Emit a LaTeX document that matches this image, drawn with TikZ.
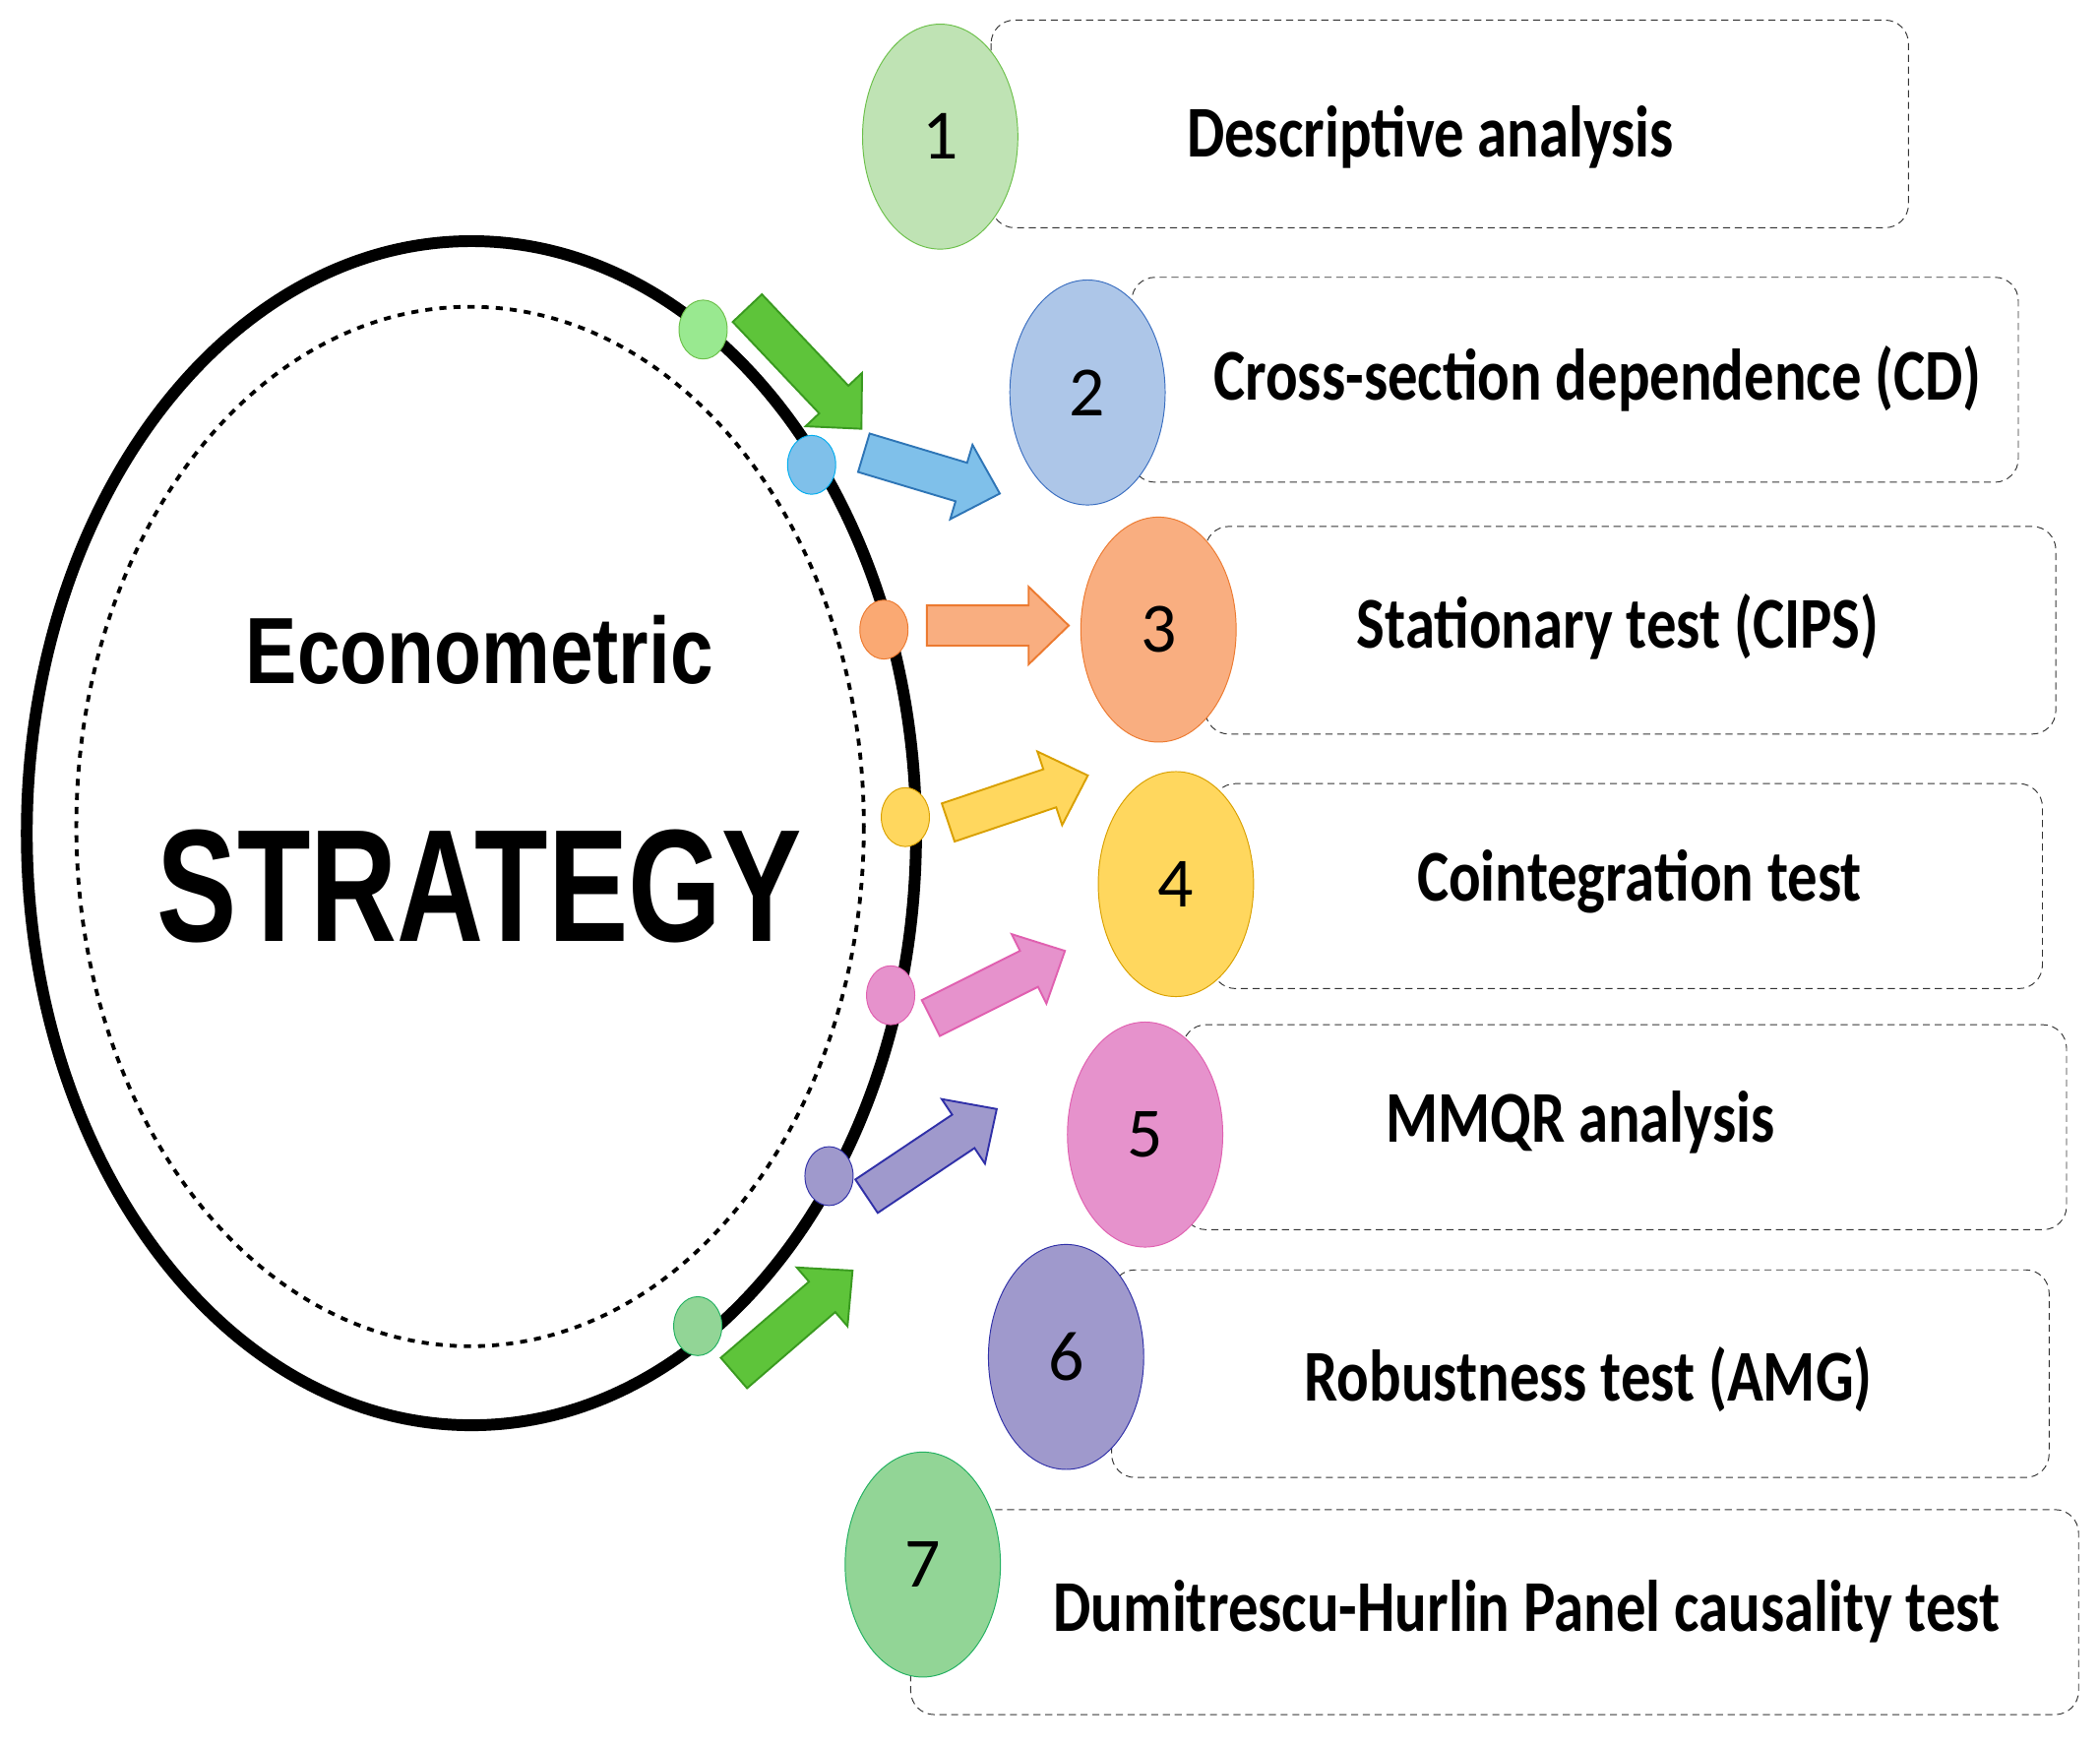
\documentclass[tikz,border=0pt]{standalone}
\usepackage{fontspec}
\setmainfont{Carlito}
\newfontfamily\hv{Liberation Sans}
\usetikzlibrary{shapes.geometric}
\definecolor{gA}{HTML}{BFE3B4}\definecolor{gAe}{HTML}{6CC04A}
\definecolor{bA}{HTML}{ADC6E8}\definecolor{bAe}{HTML}{3A6EC0}
\definecolor{oA}{HTML}{F9AE80}\definecolor{oAe}{HTML}{EC7A30}
\definecolor{yA}{HTML}{FFD75E}\definecolor{yAe}{HTML}{D9A000}
\definecolor{pA}{HTML}{E692CC}\definecolor{pAe}{HTML}{E060B0}
\definecolor{vA}{HTML}{9F99CC}\definecolor{vAe}{HTML}{3030A8}
\definecolor{sA}{HTML}{92D596}\definecolor{sAe}{HTML}{22B060}
\definecolor{garr}{HTML}{5EC43A}\definecolor{garre}{HTML}{3A9A20}
\definecolor{barr}{HTML}{7FC0EA}\definecolor{barre}{HTML}{2E75B6}
\newcommand{\blockarr}[5]{% start, page angle, length, fill, draw
 \begin{scope}[shift={#1},rotate=-#2]
 \draw[fill=#4,draw=#5,line width=0.8pt,line join=miter] (0,-15)--(#3-30,-15)--(#3-30,-29)--(#3,0)--(#3-30,29)--(#3-30,15)--(0,15)--cycle;
 \end{scope}}
\begin{document}
\begin{tikzpicture}[x=0.02cm,y=-0.02cm,
 box/.style={draw=black!80,densely dashed,rounded corners=0.35cm,thin},
 num/.style={ellipse,minimum width=2.32cm,minimum height=3.36cm,inner sep=0,font=\fontsize{30}{30}\selectfont},
 dot/.style={ellipse,minimum width=0.72cm,minimum height=0.88cm,inner sep=0},
 lab/.style={font=\bfseries\fontsize{31}{31}\selectfont,xscale=0.82}]
\useasboundingbox (0,0) rectangle (1568,1303);
\draw[line width=5pt] (352,622) ellipse [x radius=332,y radius=442];
\draw[dashed,line width=1.6pt] (351,617) ellipse [x radius=294,y radius=388];
\node[font=\hv\bfseries\fontsize{40}{40}\selectfont,xscale=0.82] (t1) at (358,485) {Econometric};
\node[font=\hv\bfseries\fontsize{68}{68}\selectfont,xscale=0.75] (t2) at (358,662) {STRATEGY};
% boxes
\draw[box] (740,15) rectangle (1425,170);
\draw[box] (845,207) rectangle (1507,360);
\draw[box] (900,393) rectangle (1535,548);
\draw[box] (905,585) rectangle (1525,738);
\draw[box] (883,765) rectangle (1543,918);
\draw[box] (830,948) rectangle (1530,1103);
\draw[box] (680,1127) rectangle (1552,1280);
\node[lab] (l1) at (1068,102) {Descriptive analysis};
\node[lab] (l2) at (1193,283) {Cross-section dependence (CD)};
\node[lab] (l3) at (1208,468) {Stationary test (CIPS)};
\node[lab] (l4) at (1224,658) {Cointegration test};
\node[lab] (l5) at (1180,838) {MMQR analysis};
\node[lab] (l6) at (1186,1030) {Robustness test (AMG)};
\node[lab] (l7) at (1140,1203) {Dumitrescu-Hurlin Panel causality test};
% number circles
\node[num,fill=gA,draw=gAe] (n1) at (702,102) {1};
\node[num,fill=bA,draw=bAe] (n2) at (812,293) {2};
\node[num,fill=oA,draw=oAe] (n3) at (865,470) {3};
\node[num,fill=yA,draw=yAe] (n4) at (878,660) {4};
\node[num,fill=pA,draw=pAe] (n5) at (855,847) {5};
\node[num,fill=vA,draw=vAe] (n6) at (796,1013) {6};
\node[num,fill=sA,draw=sAe] (n7) at (689,1168) {7};
% dots
\node[dot,fill=gA!80!green,draw=gAe] (d1) at (525,246) {};
\node[dot,fill=barr,draw=cyan] (d2) at (606,347) {};
\node[dot,fill=oA!90!orange,draw=oAe] (d3) at (660,470) {};
\node[dot,fill=yA,draw=yAe] (d4) at (676,610) {};
\node[dot,fill=pA,draw=pAe] (d5) at (665,743) {};
\node[dot,fill=vA,draw=vAe] (d6) at (619,878) {};
\node[dot,fill=sA,draw=sAe] (d7) at (521,990) {};
% block arrows
\blockarr{(558,230)}{46.6}{124}{garr}{garre}
\blockarr{(645,338)}{16.7}{106}{barr}{barre}
\blockarr{(692,467)}{0}{106}{oA}{oAe}
\blockarr{(708,614)}{-18.6}{110}{yA}{yAe}
\blockarr{(695,760)}{-26.6}{112}{pA}{pAe}
\blockarr{(647,893)}{-33.8}{117}{vA}{vAe}
\blockarr{(548,1025)}{-40.8}{117}{garr}{garre}
\end{tikzpicture}
\end{document}
